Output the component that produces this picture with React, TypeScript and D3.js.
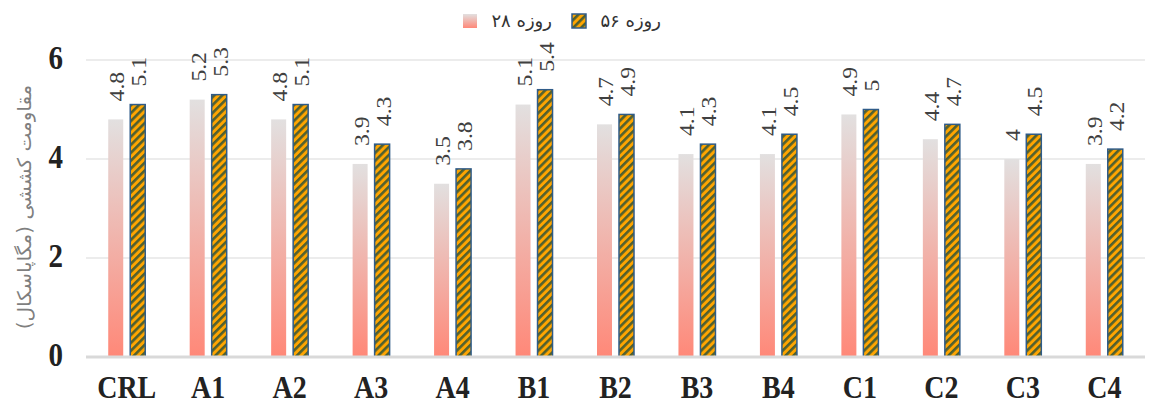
import { useEffect, useRef } from 'react'
import * as d3 from 'd3'

const categories = ['CRL', 'A1', 'A2', 'A3', 'A4', 'B1', 'B2', 'B3', 'B4', 'C1', 'C2', 'C3', 'C4']
const day28 = [4.8, 5.2, 4.8, 3.9, 3.5, 5.1, 4.7, 4.1, 4.1, 4.9, 4.4, 4.0, 3.9]
const day56 = [5.1, 5.3, 5.1, 4.3, 3.8, 5.4, 4.9, 4.3, 4.5, 5.0, 4.7, 4.5, 4.2]
const seriesNames = ['۲۸ روزه', '۵۶ روزه']
const yTicks = [0, 2, 4, 6]
const yTitle = 'مقاومت کششی (مگاپاسکال)'

const W = 1150
const H = 403

export default function App() {
  const svgRef = useRef<SVGSVGElement | null>(null)

  useEffect(() => {
    const svg = d3.select(svgRef.current!)
    svg.selectAll('*').remove()

    const margin = { top: 60, right: 5, bottom: 46, left: 86 }
    const innerW = W - margin.left - margin.right
    const innerH = H - margin.top - margin.bottom

    const defs = svg.append('defs')
    const grad = defs
      .append('linearGradient')
      .attr('id', 'g28')
      .attr('x1', 0)
      .attr('y1', 0)
      .attr('x2', 0)
      .attr('y2', 1)
    grad.append('stop').attr('offset', '0%').attr('stop-color', '#e2e0e0')
    grad.append('stop').attr('offset', '100%').attr('stop-color', '#ff8878')

    const pat = defs
      .append('pattern')
      .attr('id', 'p56')
      .attr('patternUnits', 'userSpaceOnUse')
      .attr('width', 5.6)
      .attr('height', 5.6)
      .attr('patternTransform', 'rotate(-45)')
    pat.append('rect').attr('width', 5.6).attr('height', 5.6).attr('fill', '#ffa500')
    pat.append('rect').attr('width', 5.6).attr('height', 2.6).attr('fill', '#506030')

    const x = d3.scaleBand().domain(categories).range([0, innerW])
    const y = d3.scaleLinear().domain([0, 6]).range([innerH, 0])
    const barW = 15
    const gap = 7

    const g = svg.append('g').attr('transform', `translate(${margin.left},${margin.top})`)

    // grid
    g.selectAll('line.grid')
      .data(yTicks.filter((t) => t > 0))
      .join('line')
      .attr('x1', 0)
      .attr('x2', innerW)
      .attr('y1', (d) => y(d))
      .attr('y2', (d) => y(d))
      .attr('stroke', '#d9d9d9')
      .attr('stroke-width', 1.2)

    // y tick labels (slightly stretched vertically like the original)
    g.selectAll('text.ytick')
      .data(yTicks)
      .join('text')
      .attr('transform', (d) => `translate(-23,${y(d) + 9}) scale(1,1.15)`)
      .attr('text-anchor', 'end')
      .attr('font-family', 'Liberation Serif, serif')
      .attr('font-weight', 'bold')
      .attr('font-size', 29)
      .attr('fill', '#222')
      .text((d) => d)

    const groups = g
      .selectAll('g.cat')
      .data(categories)
      .join('g')
      .attr('transform', (d) => `translate(${x(d)! + x.bandwidth() / 2},0)`)

    const x28 = -gap / 2 - barW
    const x56 = gap / 2

    groups
      .append('rect')
      .attr('x', x28)
      .attr('width', barW)
      .attr('y', (_, i) => y(day28[i]))
      .attr('height', (_, i) => innerH - y(day28[i]))
      .attr('fill', 'url(#g28)')

    groups
      .append('rect')
      .attr('x', x56)
      .attr('width', barW)
      .attr('y', (_, i) => y(day56[i]))
      .attr('height', (_, i) => innerH - y(day56[i]))
      .attr('fill', 'url(#p56)')
      .attr('stroke', '#2f5b88')
      .attr('stroke-width', 1.5)

    const addLabel = (vals: number[], bx: number) => {
      groups
        .append('text')
        .attr(
          'transform',
          (_, i) => `translate(${bx + barW / 2 + 1.5},${y(vals[i]) - 18}) rotate(-90) scale(1.18,1)`
        )
        .attr('dy', '0.35em')
        .attr('font-family', 'Liberation Serif, serif')
        .attr('font-size', 20)
        .attr('fill', '#404040')
        .text((_, i) => String(vals[i]))
    }
    addLabel(day28, x28)
    addLabel(day56, x56)

    // zero axis
    g.append('line')
      .attr('x1', 0)
      .attr('x2', innerW)
      .attr('y1', y(0))
      .attr('y2', y(0))
      .attr('stroke', '#d9d9d9')
      .attr('stroke-width', 3)

    // category labels
    groups
      .append('text')
      .attr('transform', `translate(0,${innerH + 41}) scale(1,1.12)`)
      .attr('text-anchor', 'middle')
      .attr('font-family', 'Liberation Serif, serif')
      .attr('font-weight', 'bold')
      .attr('font-size', 28)
      .attr('fill', '#222')
      .text((d) => d)

    // y title
    svg
      .append('text')
      .attr('transform', `translate(24,207) rotate(-90) scale(1.05,1)`)
      .attr('text-anchor', 'middle')
      .attr('dy', '0.35em')
      .attr('font-family', 'DejaVu Sans, sans-serif')
      .attr('font-size', 19)
      .attr('fill', '#7f7f7f')
      .attr('direction', 'rtl')
      .text(yTitle)

    // legend
    const leg = svg.append('g').attr('transform', 'translate(0,21)')
    leg.append('rect').attr('x', 463).attr('y', -7).attr('width', 14).attr('height', 14).attr('fill', 'url(#g28)')
    leg
      .append('text')
      .attr('x', 552)
      .attr('dy', '0.35em')
      .attr('text-anchor', 'end')
      .attr('font-family', 'DejaVu Sans, sans-serif')
      .attr('font-size', 18)
      .attr('fill', '#333')
      .text(seriesNames[0])
    leg
      .append('rect')
      .attr('x', 572)
      .attr('y', -7)
      .attr('width', 14)
      .attr('height', 14)
      .attr('fill', 'url(#p56)')
      .attr('stroke', '#2f5b88')
      .attr('stroke-width', 1.5)
    leg
      .append('text')
      .attr('x', 661)
      .attr('dy', '0.35em')
      .attr('text-anchor', 'end')
      .attr('font-family', 'DejaVu Sans, sans-serif')
      .attr('font-size', 18)
      .attr('fill', '#333')
      .text(seriesNames[1])
  }, [])

  return (
    <svg
      ref={svgRef}
      width={W}
      height={H}
      style={{ display: 'block', position: 'absolute', left: 0, top: 0, background: '#fff' }}
    />
  )
}
